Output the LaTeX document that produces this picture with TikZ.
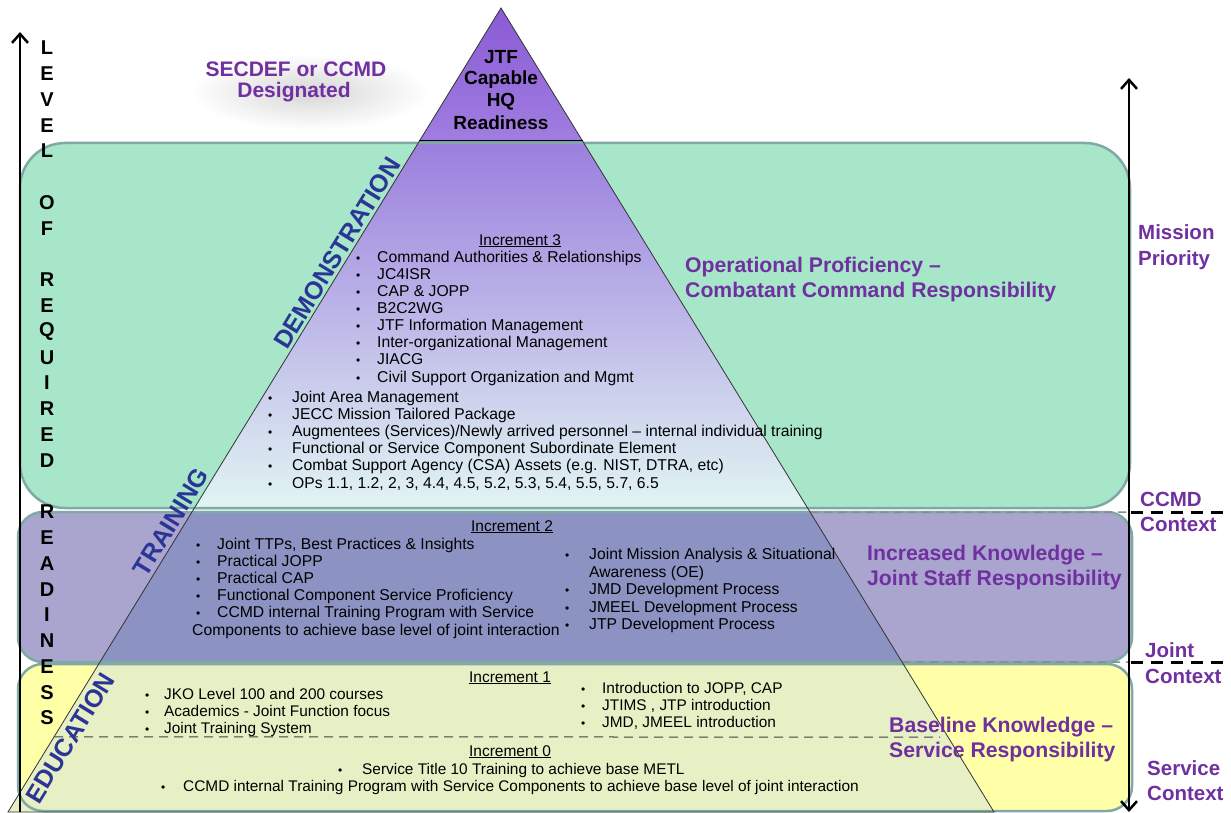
\documentclass[tikz,border=0pt]{standalone}
\usepackage{fontspec}
\setmainfont{Liberation Sans}
\usetikzlibrary{arrows.meta,calc}
\definecolor{bandgreen}{HTML}{A8E6CA}
\definecolor{bandpurple}{HTML}{A9A5CF}
\definecolor{bandyellow}{HTML}{FFFFA8}
\definecolor{bandedge}{HTML}{80A8A4}
\definecolor{pyrtop}{HTML}{8A58D4}
\definecolor{pyrtopb}{HTML}{A07EE0}
\definecolor{pyrA}{HTML}{9B7EDE}
\definecolor{pyrB}{HTML}{C6C0EC}
\definecolor{pyrC}{HTML}{E2F6F3}
\definecolor{pyrpurple}{HTML}{8C93C3}
\definecolor{pyryellow}{HTML}{E7F0C4}
\definecolor{labpurple}{HTML}{7030A0}
\definecolor{edgeblue}{HTML}{2B3595}
\tikzset{
  bandbox/.style={draw=bandedge, line width=2.5pt},
  item/.style={anchor=base west, inner sep=0pt, font=\fontsize{15.7}{17}\selectfont},
  itemb/.style={anchor=base west, inner sep=0pt, font=\fontsize{15.4}{17}\selectfont},
  bul/.style={anchor=base west, inner sep=0pt, font=\fontsize{12}{14}\selectfont},
  ttl/.style={anchor=base, inner sep=0pt, font=\fontsize{15.5}{17}\selectfont},
  plab/.style={anchor=base west, inner sep=0pt, text=labpurple, font=\bfseries\fontsize{21.2}{24}\selectfont},
  rlab/.style={anchor=base west, inner sep=0pt, text=labpurple, font=\bfseries\fontsize{20.5}{24}\selectfont},
  vlet/.style={anchor=center, inner sep=0pt, font=\bfseries\fontsize{20}{24}\selectfont},
  hq/.style={anchor=base, inner sep=0pt, font=\bfseries\fontsize{19}{22}\selectfont},
  edgetxt/.style={anchor=center, inner sep=0pt, rotate=58.5, text=edgeblue, font=\bfseries\fontsize{25}{28}\selectfont},
  axis/.style={line width=2.5pt},
  ctxdash/.style={line width=3pt, dash pattern=on 12pt off 8pt},
  faintdash/.style={line width=1.5pt, black!45, dash pattern=on 8pt off 6pt},
}
\begin{document}
\begin{tikzpicture}[x=1pt,y=-1pt]
\useasboundingbox[fill=white] (0,0) rectangle (1231,813);

% cloud behind SECDEF label
\shade[inner color=black!16, outer color=white] (310,92) ellipse (120 and 38);

% bands
\fill[bandgreen, rounded corners=45pt] (20,143) rectangle (1130,508);
\fill[bandpurple, rounded corners=25pt] (18,512) rectangle (1132,662);
\fill[bandyellow, rounded corners=25pt] (18,664) rectangle (1132,811);

% pyramid
\coordinate (apex) at (501,8);
\coordinate (bl) at (8,812);
\coordinate (br) at (994,812);
\begin{scope}
  \clip (apex) -- (bl) -- (br) -- cycle;
  \shade[top color=pyrtop, bottom color=pyrtopb] (0,0) rectangle (1231,142);
  \shade[top color=pyrA, middle color=pyrB, bottom color=pyrC] (0,142) rectangle (1231,511);
  \fill[pyrpurple] (0,511) rectangle (1231,663);
  \fill[pyryellow] (0,663) rectangle (1231,813);
\end{scope}

% band outlines
\draw[bandbox, rounded corners=45pt] (20,143) rectangle (1130,508);
\draw[bandbox, rounded corners=25pt] (18,512) rectangle (1132,662);
\draw[bandbox, rounded corners=25pt] (18,664) rectangle (1132,811);

% faint context dashes crossing the bands
\coordinate (fd1a) at ($(apex)!0.6269!(br)$);
\coordinate (fd1b) at (1130,512);
\coordinate (fd2a) at ($(apex)!0.8134!(br)$);
\coordinate (fd2b) at (1130,662);
\draw[faintdash] (fd1a) -- (fd1b);
\draw[faintdash] (fd2a) -- (fd2b);

% pyramid outline and top divider
\draw[black!80, line width=0.8pt] (apex) -- (bl) -- (br) -- cycle;
\coordinate (hqL) at ($(apex)!0.1654!(bl)$);
\coordinate (hqR) at ($(apex)!0.1654!(br)$);
\draw[black, line width=1pt] (hqL) -- (hqR);

% dashed separator increment 1 / 0
\coordinate (d0a) at ($(apex)!0.9067!(bl)$);
\coordinate (d0b) at (940,737);
\draw[black!75, line width=1pt, dash pattern=on 9pt off 6pt] (d0a) -- (d0b);

% axes
\coordinate (ax1b) at (20,812);
\coordinate (ax1t) at (20,32);
\draw[axis, -{Straight Barb[length=9pt,width=16pt]}] (ax1b) -- (ax1t);
\coordinate (ax2b) at (1129,812);
\coordinate (ax2t) at (1129,78);
\draw[axis, {Straight Barb[length=9pt,width=16pt]}-{Straight Barb[length=9pt,width=16pt]}] (ax2b) -- (ax2t);

% context dashes
\coordinate (c1a) at (1131,512); \coordinate (c1b) at (1231,512);
\coordinate (c2a) at (1131,662); \coordinate (c2b) at (1231,662);
\draw[ctxdash] (c1a) -- (c1b);
\draw[ctxdash] (c2a) -- (c2b);

% vertical axis label
\foreach \ch/\i in {L/0,E/1,V/2,E/3,L/4,O/6,F/7,R/9,E/10,Q/11,U/12,I/13,R/14,E/15,D/16,R/18,E/19,A/20,D/21,I/22,N/23,E/24,S/25,S/26}
  \node[vlet] (v\i) at (47,{48+25.77*\i}) {\ch};

% SECDEF label
\node[anchor=base, inner sep=0pt, text=labpurple, font=\bfseries\fontsize{21}{24}\selectfont] (sec1) at (296,77) {SECDEF or CCMD};
\node[anchor=base, inner sep=0pt, text=labpurple, font=\bfseries\fontsize{21}{24}\selectfont] (sec2) at (294,98) {Designated};

% pyramid apex text
\node[hq] (hq1) at (501,64) {JTF};
\node[hq] (hq2) at (501,85) {Capable};
\node[hq] (hq3) at (501,107) {HQ};
\node[hq] (hq4) at (501,130) {Readiness};

% edge labels
\node[edgetxt] (demo) at (337,253) {DEMONSTRATION};
\node[edgetxt] (train) at (171,522) {TRAINING};
\node[edgetxt] (edu) at (70,738) {EDUCATION};

% Increment 3
\node[ttl] (t3) at (520,245) {\underline{Increment 3}};
\foreach \t [count=\i from 0] in {Command Authorities \& Relationships, JC4ISR, CAP \& JOPP, B2C2WG, JTF Information Management, Inter-organizational Management, JIACG, Civil Support Organization and Mgmt}{
  \node[bul] (i3ab\i) at (356,{262+17.15*\i}) {\textbullet};
  \node[item] (i3a\i) at (377,{262+17.15*\i}) {\t};
}
\foreach \t [count=\i from 0] in {Joint Area Management, JECC Mission Tailored Package, Augmentees (Services)/Newly arrived personnel – internal individual training, Functional or Service Component Subordinate Element, {Combat Support Agency (CSA) Assets (e.g. NIST, DTRA, etc)}, {OPs 1.1, 1.2, 2, 3, 4.4, 4.5, 5.2, 5.3, 5.4, 5.5, 5.7, 6.5}}{
  \node[bul] (i3bb\i) at (268,{402+17.2*\i}) {\textbullet};
  \node[item] (i3b\i) at (292,{402+17.2*\i}) {\t};
}

% Increment 2
\node[ttl] (t2) at (512,531) {\underline{Increment 2}};
\foreach \t [count=\i from 0] in {{Joint TTPs, Best Practices \& Insights}, Practical JOPP, Practical CAP, Functional Component Service Proficiency, CCMD internal Training Program with Service}{
  \node[bul] (i2ab\i) at (196,{549+17.2*\i}) {\textbullet};
  \node[item] (i2a\i) at (217,{549+17.2*\i}) {\t};
}
\node[item] (i2a5) at (192,635) {Components to achieve base level of joint interaction};
\node[bul] (i2bb0) at (565,559) {\textbullet};
\node[item] (i2b0) at (589,559) {Joint Mission Analysis \& Situational};
\node[item] (i2b1) at (589,577) {Awareness (OE)};
\foreach \t [count=\i from 2] in {JMD Development Process, JMEEL Development Process, JTP Development Process}{
  \node[bul] (i2bb\i) at (565,{559+17.7*\i}) {\textbullet};
  \node[item] (i2b\i) at (589,{559+17.7*\i}) {\t};
}

% Increment 1
\node[ttl] (t1) at (510,682) {\underline{Increment 1}};
\foreach \t [count=\i from 0] in {JKO Level 100 and 200 courses, Academics - Joint Function focus, Joint Training System}{
  \node[bul] (i1ab\i) at (145,{699+17*\i}) {\textbullet};
  \node[itemb] (i1a\i) at (164,{699+17*\i}) {\t};
}
\foreach \t [count=\i from 0] in {{Introduction to JOPP, CAP}, {JTIMS , JTP introduction}, {JMD, JMEEL introduction}}{
  \node[bul] (i1bb\i) at (581,{693+17*\i}) {\textbullet};
  \node[itemb] (i1b\i) at (602,{693+17*\i}) {\t};
}

% Increment 0
\node[ttl] (t0) at (510,756) {\underline{Increment 0}};
\node[bul] (i0b0) at (338,774) {\textbullet};
\node[itemb] (i00) at (362,774) {Service Title 10 Training to achieve base METL};
\node[bul] (i0b1) at (161,791) {\textbullet};
\node[itemb] (i01) at (183,791) {CCMD internal Training Program with Service Components to achieve base level of joint interaction};

% purple responsibility labels
\node[plab] (op1) at (685,272) {Operational Proficiency –};
\node[plab] (op2) at (685,297) {Combatant Command Responsibility};
\node[plab] (ik1) at (867,560) {Increased Knowledge –};
\node[plab] (ik2) at (867,585) {Joint Staff Responsibility};
\node[plab] (bk1) at (889,732) {Baseline Knowledge –};
\node[plab] (bk2) at (889,757) {Service Responsibility};

% right axis labels
\node[rlab] (mp1) at (1138,239) {Mission};
\node[rlab] (mp2) at (1138,265) {Priority};
\node[rlab] (cc1) at (1140,506) {CCMD};
\node[rlab] (cc2) at (1140,531) {Context};
\node[rlab] (jc1) at (1145,657) {Joint};
\node[rlab] (jc2) at (1145,683) {Context};
\node[rlab] (sc1) at (1147,775) {Service};
\node[rlab] (sc2) at (1147,800) {Context};
\end{tikzpicture}
\end{document}
